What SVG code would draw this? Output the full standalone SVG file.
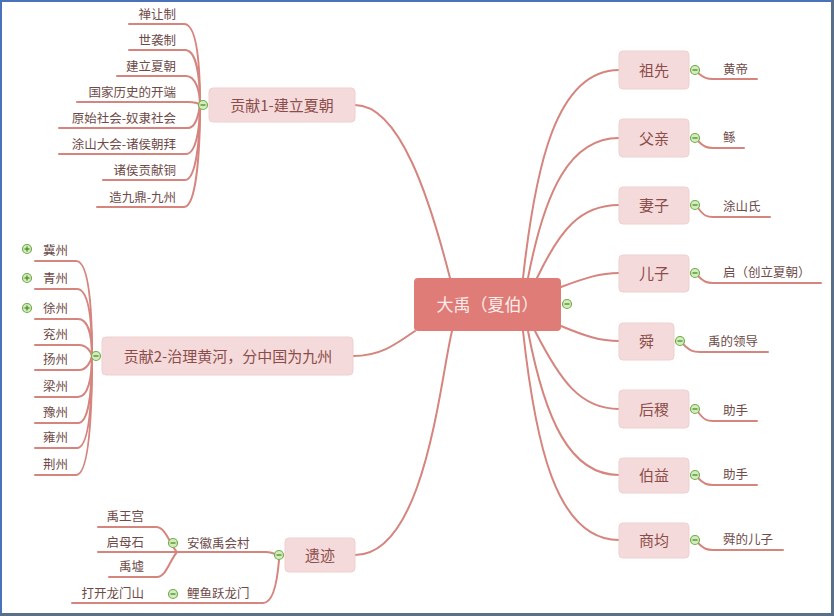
<svg xmlns="http://www.w3.org/2000/svg" width="834" height="616" viewBox="0 0 834 616">
<style>
.ln{fill:none;stroke:#d5847e;stroke-width:2;stroke-linecap:round}
.tp{fill:#f4dada;stroke:#efcfcf;stroke-width:1}
.tt{font-family:"Noto Sans CJK SC","Liberation Sans",sans-serif;font-size:15px;fill:#8c4d4a;text-anchor:middle}
.lf{font-family:"Noto Sans CJK SC","Liberation Sans",sans-serif;font-size:12.5px;fill:#6e4a48}
.r{text-anchor:end}
.cc{fill:#d3ecbb;stroke:#72ad4d;stroke-width:1.2}
.cm{stroke:#4d8a30;stroke-width:1.3}
</style>
<rect x="0" y="0" width="834" height="616" fill="#ffffff"/>
<rect x="0" y="0" width="834" height="2" fill="#4a72b8"/>
<rect x="0" y="0" width="2" height="616" fill="#4a72b8"/>
<rect x="831" y="0" width="3" height="616" fill="#5a7088"/>
<rect x="0" y="613" width="834" height="3" fill="#5a7088"/>

<g id="connectors">
<!-- central to main topics -->
<path class="ln" d="M355,105 C400,105 430,200 450,278"/>
<path class="ln" d="M415,331 C395,345 380,356 353,356"/>
<path class="ln" d="M452,331 C440,380 425,555 355,555"/>
<path class="ln" d="M523,278 C535,170 555,70 619,70"/>
<path class="ln" d="M528,278 C545,190 570,138 619,138"/>
<path class="ln" d="M537,278 C560,230 580,205 619,205"/>
<path class="ln" d="M561,287 C585,278 600,273 619,273"/>
<path class="ln" d="M561,326 C585,336 600,341 619,341"/>
<path class="ln" d="M535,331 C560,380 580,409 619,409"/>
<path class="ln" d="M528,331 C545,420 570,475 619,475"/>
<path class="ln" d="M523,331 C535,440 555,540 619,540"/>
<!-- 贡献1 leaves -->
<path class="ln" d="M129,24 H184 C196,24 200,60 200,105"/>
<path class="ln" d="M129,50 H185 C196,50 200,75 200,105"/>
<path class="ln" d="M117,76 H186 C196,76 200,92 200,105"/>
<path class="ln" d="M77,102 H188 C196,102 199,104 200,105"/>
<path class="ln" d="M59,128 H188 C196,128 199,112 200,105"/>
<path class="ln" d="M59,154 H186 C196,154 200,128 200,105"/>
<path class="ln" d="M103,180 H185 C196,180 200,140 200,105"/>
<path class="ln" d="M97,207 H184 C196,207 200,155 200,105"/>
<!-- 贡献2 leaves -->
<path class="ln" d="M35,261 H76 C88,261 92,300 92,356"/>
<path class="ln" d="M35,289 H77 C88,289 92,315 92,356"/>
<path class="ln" d="M35,319 H78 C88,319 92,335 92,356"/>
<path class="ln" d="M35,345 H79 C87,345 91,352 92,356"/>
<path class="ln" d="M35,370 H79 C87,370 91,361 92,356"/>
<path class="ln" d="M35,397 H78 C88,397 92,378 92,356"/>
<path class="ln" d="M35,423 H78 C88,423 92,395 92,356"/>
<path class="ln" d="M35,448 H77 C88,448 92,410 92,356"/>
<path class="ln" d="M35,475 H76 C88,475 92,425 92,356"/>
<!-- 遗迹 children -->
<path class="ln" d="M176,552 H266 C273,552 276,555 279,555"/>
<path class="ln" d="M72,603 H263 C272,603 277,585 279,560"/>
<path class="ln" d="M98,527 H156 C166,527 170,545 177,552"/>
<path class="ln" d="M98,552 H177"/>
<path class="ln" d="M109,577 H157 C166,577 170,560 177,552"/>
<!-- right leaves -->
<path class="ln" d="M698,73 C704,78 707,79 713,79 H757"/>
<path class="ln" d="M698,141 C704,147 707,148 713,148 H744"/>
<path class="ln" d="M698,208 C704,216 707,217 713,217 H770"/>
<path class="ln" d="M698,276 C704,282 707,283 713,283 H821"/>
<path class="ln" d="M683,344 C690,351 693,352 700,352 H768"/>
<path class="ln" d="M698,412 C704,420 707,421 713,421 H757"/>
<path class="ln" d="M698,478 C704,484 707,485 713,485 H757"/>
<path class="ln" d="M698,543 C704,549 707,550 713,550 H783"/>
</g>

<g id="center">
<rect x="414" y="278" width="147" height="53" rx="4" fill="#df7c78"/>
<text x="487.5" y="311" font-family="'Noto Sans CJK SC','Liberation Sans',sans-serif" font-size="17" fill="#fdeceb" text-anchor="middle">大禹（夏伯）</text>
<circle class="cc" cx="567" cy="304" r="4.5"/><line class="cm" x1="564.5" y1="304" x2="569.5" y2="304"/>
</g>

<g id="gx1">
<rect class="tp" x="209" y="88" width="146" height="34" rx="4"/>
<text class="tt" x="282" y="110.5">贡献1-建立夏朝</text>
<circle class="cc" cx="203" cy="105" r="4.5"/><line class="cm" x1="200.5" y1="105" x2="205.5" y2="105"/>
<text class="lf r" x="176" y="19">禅让制</text>
<text class="lf r" x="176" y="45">世袭制</text>
<text class="lf r" x="176" y="71">建立夏朝</text>
<text class="lf r" x="176" y="97">国家历史的开端</text>
<text class="lf r" x="176" y="123">原始社会-奴隶社会</text>
<text class="lf r" x="176" y="149">涂山大会-诸侯朝拜</text>
<text class="lf r" x="176" y="175">诸侯贡献铜</text>
<text class="lf r" x="176" y="202">造九鼎-九州</text>
</g>

<g id="gx2">
<rect class="tp" x="102" y="337" width="251" height="38" rx="4"/>
<text class="tt" x="228" y="361.5">贡献2-治理黄河，分中国为九州</text>
<circle class="cc" cx="96" cy="356" r="4.5"/><line class="cm" x1="93.5" y1="356" x2="98.5" y2="356"/>
<circle class="cc" cx="27" cy="249" r="4.5"/><line class="cm" x1="24.5" y1="249" x2="29.5" y2="249"/><line class="cm" x1="27" y1="246.5" x2="27" y2="251.5"/>
<circle class="cc" cx="27" cy="278" r="4.5"/><line class="cm" x1="24.5" y1="278" x2="29.5" y2="278"/><line class="cm" x1="27" y1="275.5" x2="27" y2="280.5"/>
<circle class="cc" cx="27" cy="308" r="4.5"/><line class="cm" x1="24.5" y1="308" x2="29.5" y2="308"/><line class="cm" x1="27" y1="305.5" x2="27" y2="310.5"/>
<text class="lf" x="43" y="254.5">冀州</text>
<text class="lf" x="43" y="282.5">青州</text>
<text class="lf" x="43" y="312.5">徐州</text>
<text class="lf" x="43" y="338.5">兖州</text>
<text class="lf" x="43" y="363.5">扬州</text>
<text class="lf" x="43" y="390.5">梁州</text>
<text class="lf" x="43" y="416.5">豫州</text>
<text class="lf" x="43" y="441.5">雍州</text>
<text class="lf" x="43" y="468.5">荆州</text>
</g>

<g id="yiji">
<rect class="tp" x="285" y="538" width="70" height="34" rx="4"/>
<text class="tt" x="320" y="560.5">遗迹</text>
<circle class="cc" cx="279" cy="555" r="4.5"/><line class="cm" x1="276.5" y1="555" x2="281.5" y2="555"/>
<circle class="cc" cx="173" cy="543" r="4.5"/><line class="cm" x1="170.5" y1="543" x2="175.5" y2="543"/>
<text class="lf" x="187" y="547.5">安徽禹会村</text>
<circle class="cc" cx="173" cy="594" r="4.5"/><line class="cm" x1="170.5" y1="594" x2="175.5" y2="594"/>
<text class="lf" x="187" y="598">鲤鱼跃龙门</text>
<text class="lf r" x="144" y="521">禹王宫</text>
<text class="lf r" x="144" y="546.5">启母石</text>
<text class="lf r" x="144" y="571">禹墟</text>
<text class="lf r" x="144" y="598">打开龙门山</text>
</g>

<g id="zuxian">
<rect class="tp" x="619" y="51" width="70" height="38" rx="4"/>
<text class="tt" x="654" y="75.5">祖先</text>
<circle class="cc" cx="695" cy="70" r="4.5"/><line class="cm" x1="692.5" y1="70" x2="697.5" y2="70"/>
<text class="lf" x="723" y="73.5">黄帝</text>
</g>
<g id="fuqin">
<rect class="tp" x="619" y="119" width="70" height="38" rx="4"/>
<text class="tt" x="654" y="143.5">父亲</text>
<circle class="cc" cx="695" cy="138" r="4.5"/><line class="cm" x1="692.5" y1="138" x2="697.5" y2="138"/>
<text class="lf" x="723" y="142">鲧</text>
</g>
<g id="qizi">
<rect class="tp" x="619" y="187" width="70" height="37" rx="4"/>
<text class="tt" x="654" y="210.5">妻子</text>
<circle class="cc" cx="695" cy="205" r="4.5"/><line class="cm" x1="692.5" y1="205" x2="697.5" y2="205"/>
<text class="lf" x="723" y="211">涂山氏</text>
</g>
<g id="erzi">
<rect class="tp" x="619" y="255" width="70" height="37" rx="4"/>
<text class="tt" x="654" y="278.5">儿子</text>
<circle class="cc" cx="695" cy="273" r="4.5"/><line class="cm" x1="692.5" y1="273" x2="697.5" y2="273"/>
<text class="lf" x="723" y="277">启（创立夏朝）</text>
</g>
<g id="shun">
<rect class="tp" x="619" y="323" width="55" height="37" rx="4"/>
<text class="tt" x="646.5" y="346.5">舜</text>
<circle class="cc" cx="680" cy="341" r="4.5"/><line class="cm" x1="677.5" y1="341" x2="682.5" y2="341"/>
<text class="lf" x="708" y="345.5">禹的领导</text>
</g>
<g id="houji">
<rect class="tp" x="619" y="390" width="70" height="38" rx="4"/>
<text class="tt" x="654" y="414.5">后稷</text>
<circle class="cc" cx="695" cy="409" r="4.5"/><line class="cm" x1="692.5" y1="409" x2="697.5" y2="409"/>
<text class="lf" x="723" y="414.5">助手</text>
</g>
<g id="boyi">
<rect class="tp" x="619" y="458" width="70" height="35" rx="4"/>
<text class="tt" x="654" y="480.5">伯益</text>
<circle class="cc" cx="695" cy="475" r="4.5"/><line class="cm" x1="692.5" y1="475" x2="697.5" y2="475"/>
<text class="lf" x="723" y="479">助手</text>
</g>
<g id="shangjun">
<rect class="tp" x="619" y="523" width="70" height="35" rx="4"/>
<text class="tt" x="654" y="545.5">商均</text>
<circle class="cc" cx="695" cy="540" r="4.5"/><line class="cm" x1="692.5" y1="540" x2="697.5" y2="540"/>
<text class="lf" x="723" y="544">舜的儿子</text>
</g>
</svg>
